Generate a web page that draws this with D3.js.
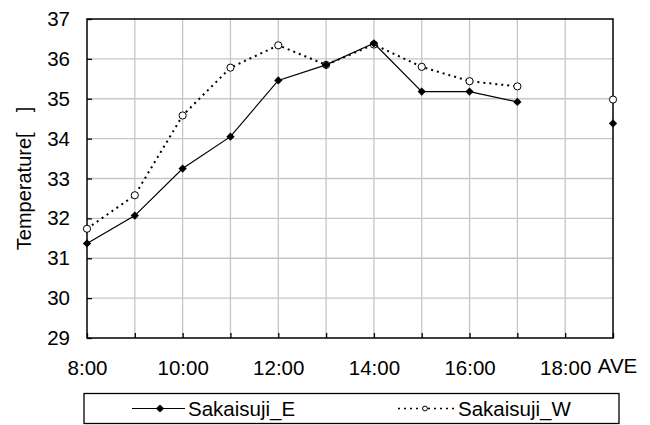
<!DOCTYPE html>
<html>
<head>
<meta charset="utf-8">
<script src="https://cdn.jsdelivr.net/npm/d3@7"></script>
<style>
  body { margin: 0; background: #fff; }
  svg { display: block; font-family: "Liberation Sans", Arial, sans-serif; }
</style>
</head>
<body>
<svg id="chart" width="650" height="425"></svg>
<script>
// categories along the x axis (one slot per hour, plus the average)
let hours = ["8:00", "9:00", "10:00", "11:00", "12:00", "13:00", "14:00",
             "15:00", "16:00", "17:00", "18:00", "AVE"];
let tickLabels = ["8:00", "10:00", "12:00", "14:00", "16:00", "18:00", "AVE"];
let yTicks = [29, 30, 31, 32, 33, 34, 35, 36, 37];

// measured temperatures (no reading at 18:00)
let sakaisujiE = [31.37, 32.07, 33.25, 34.05, 35.46, 35.85, 36.39, 35.18, 35.18, 34.92, null, 34.38];
let sakaisujiW = [31.74, 32.58, 34.58, 35.78, 36.34, 35.85, 36.36, 35.80, 35.44, 35.31, null, 34.98];

let svg = d3.select('#chart');
let margin = { top: 19, right: 37, bottom: 87, left: 87 };
let width = +svg.attr('width');
let height = +svg.attr('height');
let x0 = margin.left, x1 = width - margin.right;
let y0 = height - margin.bottom, y1 = margin.top;

let x = d3.scalePoint().domain(hours).range([x0, x1]).padding(0);
let y = d3.scaleLinear().domain([29, 37]).range([y0, y1]);

// grid
let grid = svg.append('g');
grid.selectAll('line.v')
    .data(hours.slice(1, -1))
    .join('line')
        .attr('class', 'v')
        .attr('x1', d => x(d)).attr('x2', d => x(d))
        .attr('y1', y1).attr('y2', y0)
        .attr('stroke', '#c6c6c6').attr('stroke-width', 1.3);
grid.selectAll('line.h')
    .data(yTicks.slice(1, -1))
    .join('line')
        .attr('class', 'h')
        .attr('x1', x0).attr('x2', x1)
        .attr('y1', d => y(d)).attr('y2', d => y(d))
        .attr('stroke', '#c6c6c6').attr('stroke-width', 1.3);

// axes with inward ticks
let xAxis = svg.append('g')
    .attr('transform', `translate(0,${y0})`)
    .call(d3.axisBottom(x).tickSizeInner(-5).tickSizeOuter(0)
        .tickFormat(d => tickLabels.includes(d) ? d : ''));
xAxis.select('.domain').remove();
xAxis.selectAll('line').attr('stroke', '#000').attr('stroke-width', 1.3);
xAxis.selectAll('text')
    .attr('font-size', 20.5)
    .attr('fill', '#000')
    .attr('y', 22)
    .attr('dy', '0.71em')
    .attr('dx', d => d === 'AVE' ? 4 : 0)
    .attr('transform', d => d === 'AVE' ? 'translate(0,-2)' : null);

let yAxis = svg.append('g')
    .attr('transform', `translate(${x0},0)`)
    .call(d3.axisLeft(y).tickValues(yTicks).tickSizeInner(-5).tickSizeOuter(0));
yAxis.select('.domain').remove();
yAxis.selectAll('line').attr('stroke', '#000').attr('stroke-width', 1.3);
yAxis.selectAll('text')
    .attr('font-size', 20.5)
    .attr('fill', '#000')
    .attr('x', -17);

// plot frame
svg.append('rect')
    .attr('x', x0).attr('y', y1)
    .attr('width', x1 - x0).attr('height', y0 - y1)
    .attr('fill', 'none')
    .attr('stroke', '#000')
    .attr('stroke-width', 1.5);

// y title
svg.append('text')
    .attr('transform', `translate(31,${(y0 + y1) / 2}) rotate(-90)`)
    .attr('text-anchor', 'middle')
    .attr('font-size', 20)
    .text('Temperature[\u2003]');

let line = d3.line()
    .defined(d => d != null)
    .x((d, i) => x(hours[i]))
    .y(d => y(d));

// square diamond like the spreadsheet marker
let diamond = d3.symbol().type(d3.symbolSquare).size(34);

// Sakaisuji_W: dotted line, open circles
svg.append('path')
    .datum(sakaisujiW)
    .attr('d', line)
    .attr('fill', 'none')
    .attr('stroke', '#000')
    .attr('stroke-width', 2)
    .attr('stroke-dasharray', '2,4');
svg.append('g').selectAll('circle')
    .data(sakaisujiW.map((v, i) => [hours[i], v]).filter(d => d[1] != null))
    .join('circle')
        .attr('cx', d => x(d[0]))
        .attr('cy', d => y(d[1]))
        .attr('r', 3.6)
        .attr('fill', '#fff')
        .attr('stroke', '#000')
        .attr('stroke-width', 1);

// Sakaisuji_E: solid line, filled diamonds
svg.append('path')
    .datum(sakaisujiE)
    .attr('d', line)
    .attr('fill', 'none')
    .attr('stroke', '#000')
    .attr('stroke-width', 1.2);
svg.append('g').selectAll('path')
    .data(sakaisujiE.map((v, i) => [hours[i], v]).filter(d => d[1] != null))
    .join('path')
        .attr('d', diamond)
        .attr('transform', d => `translate(${x(d[0])},${y(d[1])}) rotate(45)`)
        .attr('fill', '#000');

// legend
let legend = svg.append('g');
legend.append('rect')
    .attr('x', 84).attr('y', 393.5)
    .attr('width', 535).attr('height', 30)
    .attr('fill', '#fff')
    .attr('stroke', '#000')
    .attr('stroke-width', 1.3);
let ly = 408.5;
legend.append('line')
    .attr('x1', 132).attr('x2', 185).attr('y1', ly).attr('y2', ly)
    .attr('stroke', '#000').attr('stroke-width', 1.2);
legend.append('path')
    .attr('d', diamond)
    .attr('transform', `translate(160,${ly}) rotate(45)`)
    .attr('fill', '#000');
legend.append('text')
    .attr('x', 188).attr('y', ly).attr('dy', '0.35em')
    .attr('font-size', 20.5)
    .text('Sakaisuji_E');
legend.append('line')
    .attr('x1', 398).attr('x2', 455).attr('y1', ly).attr('y2', ly)
    .attr('stroke', '#000').attr('stroke-width', 1.6)
    .attr('stroke-dasharray', '2,4');
legend.append('circle')
    .attr('cx', 425).attr('cy', ly).attr('r', 2.4)
    .attr('fill', '#fff').attr('stroke', '#000').attr('stroke-width', 1);
legend.append('text')
    .attr('x', 458).attr('y', ly).attr('dy', '0.35em')
    .attr('font-size', 20.5)
    .text('Sakaisuji_W');
</script>
</body>
</html>
